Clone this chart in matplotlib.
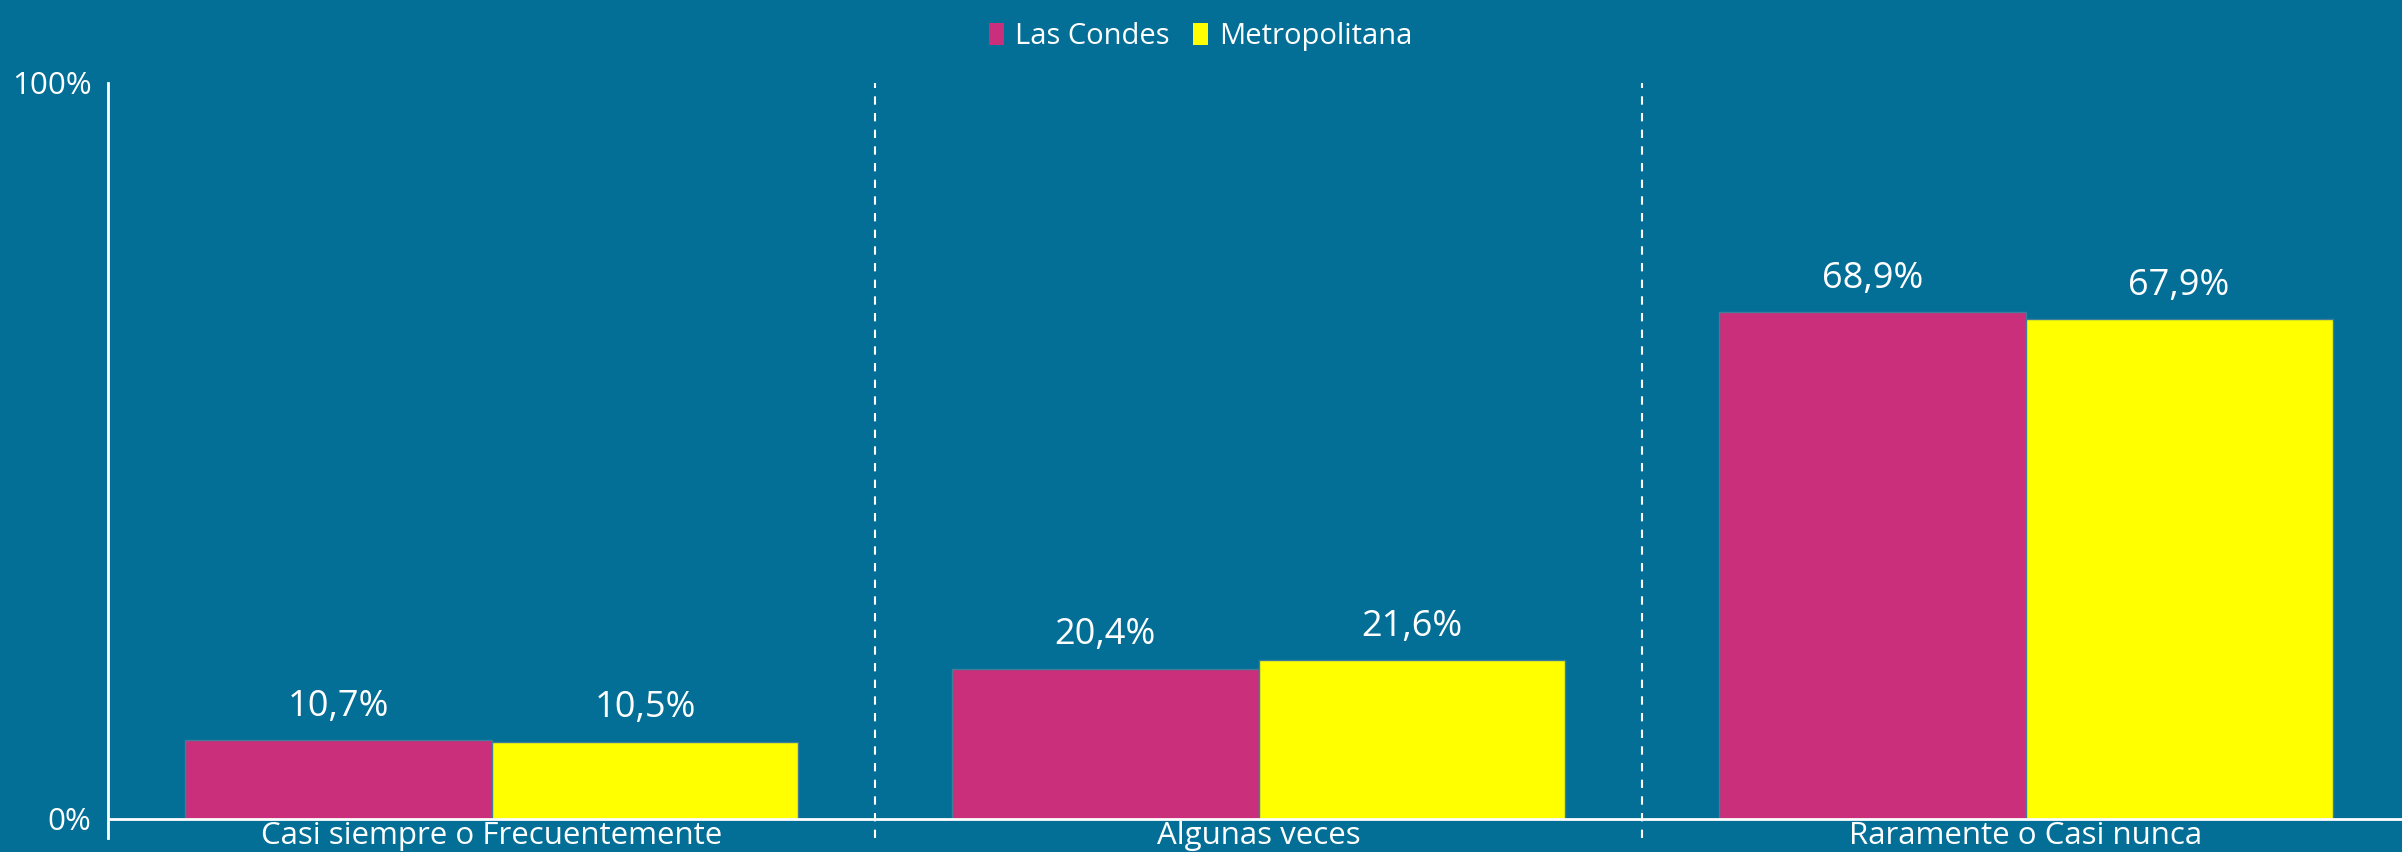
import matplotlib.pyplot as plt
import numpy as np
from matplotlib.patches import Patch

# Data
categories = ['Casi siempre o Frecuentemente', 'Algunas veces', 'Raramente o Casi nunca']
las_condes = [10.7, 20.4, 68.9]
metropolitana = [10.5, 21.6, 67.9]
series_names = ['Las Condes', 'Metropolitana']
y_ticks = [0, 100]
y_tick_labels = ['0%', '100%']

bg = '#036f97'
colors = {'Las Condes': '#c92f7a', 'Metropolitana': '#ffff00'}

plt.rcParams['font.family'] = ['Open Sans', 'DejaVu Sans']

fig = plt.figure(figsize=(24.02, 8.52), dpi=100, facecolor=bg)
ax = fig.add_axes([0.045, 0.0164, 0.958, 0.8862])
ax.set_facecolor(bg)

x = np.arange(len(categories))
width = 0.4

# Bars
for i, (name, values) in enumerate(zip(series_names, [las_condes, metropolitana])):
    pos = x + (i - 0.5) * width
    bars = ax.bar(pos, values, width=width, color=colors[name],
                  edgecolor='#3f7d99', linewidth=1, zorder=2)
    for b, v in zip(bars, values):
        ax.annotate(f'{v:.1f}'.replace('.', ',') + '%',
                    (b.get_x() + b.get_width() / 2, v),
                    xytext=(0, 24), textcoords='offset points',
                    ha='center', va='center', color='white', fontsize=26)

ax.set_xlim(-0.5, len(categories) - 0.5)
ax.set_ylim(-2.6, 100)

# Dashed separators between categories
for s in x[:-1] + 0.5:
    ax.axvline(s, color='white', linestyle=(0, (4, 4)), linewidth=1.5, zorder=1)

# Zero line
ax.axhline(0, color='white', linewidth=2, zorder=3)

# Spines
for side in ['top', 'right', 'bottom']:
    ax.spines[side].set_visible(False)
ax.spines['left'].set_color('white')
ax.spines['left'].set_linewidth(2)

ax.set_yticks(y_ticks)
ax.set_yticklabels(y_tick_labels)
ax.tick_params(axis='y', length=0, pad=12, labelcolor='white', labelsize=22.5)
ax.set_xticks([])

# Category labels just below the zero line
for xi, cat in zip(x, categories):
    ax.text(xi, -0.3, cat, ha='center', va='top', color='white', fontsize=22.5, clip_on=False)

# Legend
handles = [Patch(facecolor=colors[n], edgecolor='none', label=n) for n in series_names]
fig.legend(handles=handles, loc='upper center', bbox_to_anchor=(0.5, 1.005), ncol=2,
           frameon=False, fontsize=21, labelcolor='white', handlelength=0.5,
           handleheight=0.8, handletextpad=0.4, columnspacing=0.8)

plt.savefig('out.png', dpi=100, facecolor=bg)
